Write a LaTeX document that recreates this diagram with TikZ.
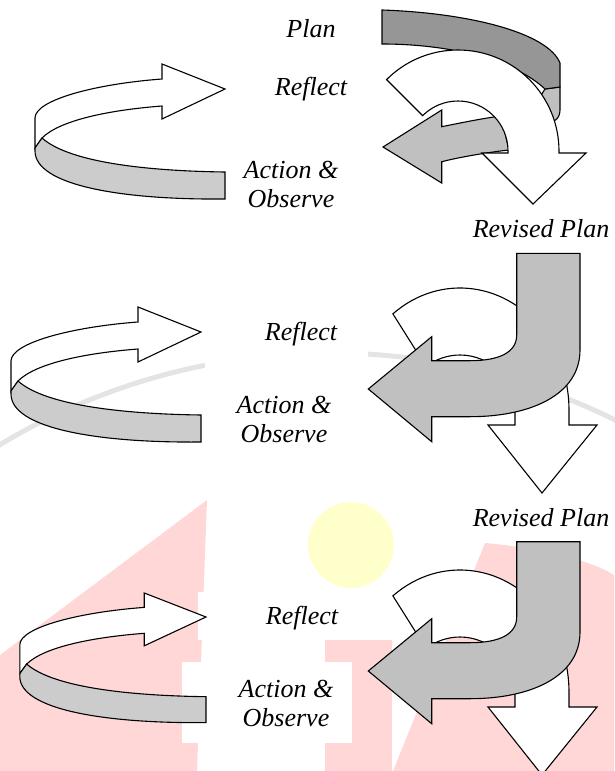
\documentclass[tikz,border=0pt]{standalone}
\usepackage{fontspec}
\setmainfont{Liberation Serif}
\usetikzlibrary{calc}

\definecolor{bandgray}{HTML}{969696}
\definecolor{ribgray}{HTML}{CCCCCC}
\definecolor{jgray}{HTML}{C0C0C0}
\definecolor{wmred}{HTML}{FFD7D7}
\definecolor{wmyellow}{HTML}{FFFFCC}
\definecolor{wmgray}{HTML}{E4E4E4}

\begin{document}
\begin{tikzpicture}[x=1pt, y=-1pt, font=\fontsize{26}{29}\selectfont\itshape,
                    o/.style={draw=black, line width=1.1pt},
                    blank/.style={o, fill=white},
                    rib/.style={o, fill=ribgray},
                    jarr/.style={o, fill=jgray},
                    band/.style={o, fill=bandgray},
                    lbl/.style={fill=white, inner sep=3pt, align=center}]
  \useasboundingbox (0,0) rectangle (614,771);
  % watermark
  \fill[wmred] (0,655) -- (207,500) -- (197,771) -- (0,771) -- cycle;
  \fill[wmred] (485,543) .. controls (540,548) and (590,560) .. (614,575) -- (614,771) -- (393,771) -- cycle;
  \fill[wmred] (325,640) rectangle (392,771);
  \fill[wmyellow] (351,545) circle (43);
  \draw[wmgray, line width=5pt] (330,993) ++(-150:640) arc[start angle=-150, end angle=-35, radius=640];
  % text boxes over the watermark
  \fill[white] (205,306) rectangle (368,368);
  \fill[white] (198,592) rectangle (340,640);
  \fill[white] (182,662) rectangle (352,743);
  % left ribbons
  \foreach \tx/\ty/\sx/\sy in {225/89/1/1, 201/332/1/1, 206/617/0.98/0.96} {
    \begin{scope}[shift={(\tx,\ty)}, xscale=\sx, yscale=\sy]
      \draw[blank] (-63,-10) -- (-63,-25) -- (0,0) -- (-63,30) -- (-63,17)
        .. controls (-115,21) and (-165,31) .. (-183,49) -- (-190,59) -- (-190,29)
        .. controls (-190,11) and (-130,-5) .. (-63,-10) -- cycle;
      \draw[rib] (-183,49) .. controls (-155,74) and (-75,82) .. (0,83) -- (0,110)
        .. controls (-105,111) and (-190,96) .. (-190,62) -- (-190,59) -- cycle;
    \end{scope}
  }
  % first cycle, right
  \draw[jarr] (545,89) -- (560,87) -- (560,110) .. controls (560,115) and (558,119) .. (554,121) -- (538,100) -- cycle;
  \draw[band] (382,10) .. controls (470,13) and (548,33) .. (560,63) -- (560,87) -- (545,89)
    .. controls (514,60) and (450,44) .. (382,44) -- cycle;
  \draw[jarr] (383,147) -- (441.7,110) -- (441.7,126.7) .. controls (465,122) and (485,118) .. (501,116)
    -- (509,150) .. controls (490,152) and (460,157) .. (441.7,161.7) -- (441.7,183) -- cycle;
  \draw[blank] (458,151) ++(-135:101) arc[start angle=-135, end angle=0, radius=101]
    -- (559,153) -- (586,153) -- (533,204) -- (482,153) -- (508,153) -- (508,151)
    arc[start angle=0, end angle=-135, radius=50] -- cycle;
  % second and third cycle, right
  \foreach \dy/\jtop in {0/253.3, 282/259.7} {
    \begin{scope}[shift={(0,\dy)}]
      \draw[blank] (460,410) ++(-128:109 and 122) arc[start angle=-128, end angle=0, x radius=109, y radius=122]
        -- (569,425) -- (597,425) -- (542,493) -- (488,425) -- (515,425) -- (515,410)
        arc[start angle=0, end angle=-128, radius=55] -- cycle;
      \draw[jarr] (516.7,\jtop) -- (580,\jtop) -- (580,350) .. controls (580,395) and (530,416.7) .. (470,416.7)
        -- (431.7,416.7) -- (431.7,441.7) -- (368.3,389) -- (431.7,336.7) -- (431.7,360.7) -- (470,360.7)
        .. controls (500,360.7) and (516.7,352) .. (516.7,335) -- cycle;
    \end{scope}
  }
  % labels
  \node[lbl] (plan) at (311,29) {Plan};
  \node[lbl] (reflect1) at (311,89) {Reflect};
  \node[lbl] (act1) at (291,184) {Action \&\\Observe};
  \node[lbl] (revised1) at (541,229) {Revised Plan};
  \node (reflect2) at (301,334) {Reflect};
  \node[align=center] (act2) at (284,419) {Action \&\\Observe};
  \node[lbl] (revised2) at (541,518) {Revised Plan};
  \node (reflect3) at (302,618) {Reflect};
  \node[align=center] (act3) at (286,703) {Action \&\\Observe};
\end{tikzpicture}
\end{document}
